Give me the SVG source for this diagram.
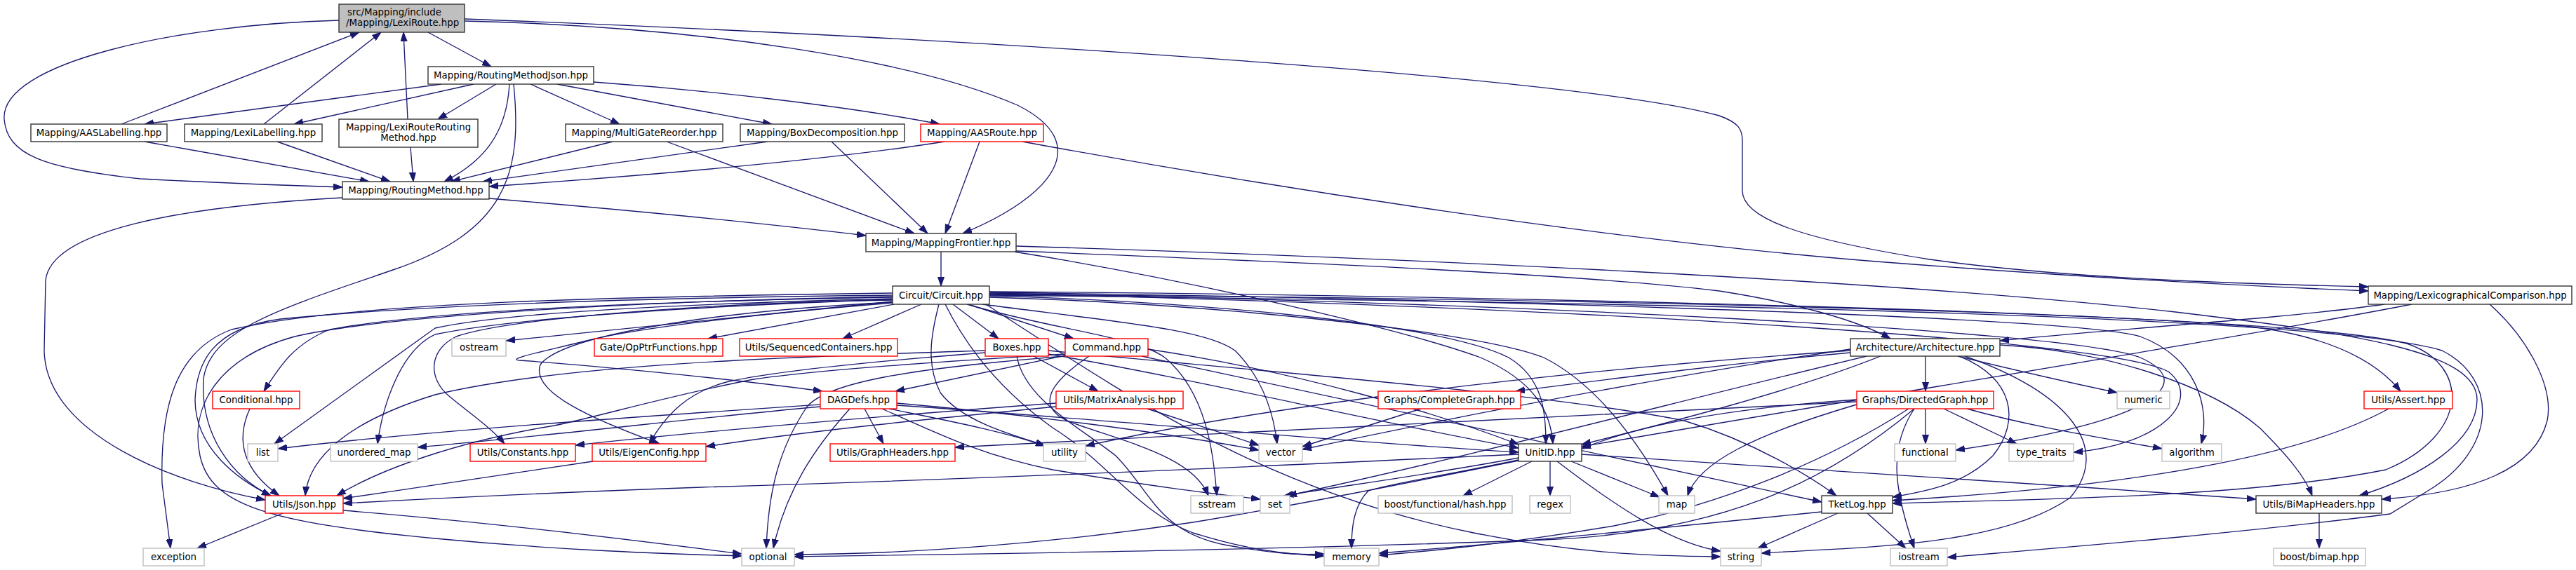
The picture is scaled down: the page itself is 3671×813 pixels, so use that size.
<svg xmlns="http://www.w3.org/2000/svg" width="3671" height="813" viewBox="0 0 3671 813">
<defs>
<marker id="a" markerWidth="14" markerHeight="10" refX="13" refY="5" orient="auto" markerUnits="userSpaceOnUse"><path d="M0,0.5 L13,5 L0,9.5 z" fill="#191970" stroke="#191970" stroke-width="1"/></marker>
<style>
.n rect{fill:#fff;stroke:#333;stroke-width:1.4}
.h rect{fill:#bfbfbf;stroke:#333;stroke-width:1.4}
.r rect{fill:#fff;stroke:#f00;stroke-width:1.4}
.g rect{fill:#fff;stroke:#bfbfbf;stroke-width:1.4}
text{font-family:"DejaVu Sans","Liberation Sans",sans-serif;font-size:13.33px;fill:#000;text-anchor:middle}
.e path{fill:none;stroke:#191970;stroke-width:1.33;marker-end:url(#a)}
</style>
</defs>
<rect width="3671" height="813" fill="#fff"/>
<g class="e" id="edges">
<path d="M173,177 L512,46"/>
<path d="M376,177 L543,46"/>
<path d="M581,170 L575,46"/>
<path d="M610,46 L700,95"/>
<path d="M483,29 C250,35 0,90 6,170 C10,220 60,240 200,255 C330,262 420,265 488,267"/>
<path d="M662,30 C1000,38 1300,85 1450,150 C1560,205 1500,280 1372,333"/>
<path d="M662,27 C1400,55 2250,110 2450,165 C2478,175 2483,185 2483,200 L2483,272 C2483,310 2560,340 2750,370 C2950,398 3200,405 3375,409"/>
<path d="M629,120 L206,177"/>
<path d="M675,120 L419,177"/>
<path d="M707,120 L624,170"/>
<path d="M726,120 C722,190 690,230 633,259"/>
<path d="M732,120 C745,250 720,330 560,385 C400,440 300,470 290,540 C285,620 330,680 386,707"/>
<path d="M756,120 L883,177"/>
<path d="M794,120 L1100,177"/>
<path d="M846,117 C1000,128 1200,150 1339,177"/>
<path d="M206,202 L526,259"/>
<path d="M395,202 L556,259"/>
<path d="M585,210 L589,259"/>
<path d="M873,202 L643,259"/>
<path d="M1094,202 L688,259"/>
<path d="M1346,202 C1200,225 1000,245 697,266"/>
<path d="M950,202 L1303,333"/>
<path d="M1185,202 L1322,333"/>
<path d="M1396,202 L1347,333"/>
<path d="M1457,202 C1800,265 2300,345 2700,375 C3000,398 3250,410 3375,415"/>
<path d="M697,283 C900,300 1100,320 1234,336"/>
<path d="M488,282 C250,295 72,330 65,400 L63,500 C65,620 250,690 378,713"/>
<path d="M1341,359 L1341,408"/>
<path d="M1448,358 C1800,372 2250,390 2450,415 C2560,432 2650,458 2694,483"/>
<path d="M1445,359 C1700,400 2000,470 2110,510 C2190,545 2210,590 2213,633"/>
<path d="M1448,351 C2000,368 2700,400 3100,445 C3350,475 3530,500 3530,570 C3530,630 3450,680 3362,707"/>
<path d="M1272,430 L721,486"/>
<path d="M1274,434 L1009,483"/>
<path d="M1313,434 L1201,483"/>
<path d="M1272,418 C900,423 500,430 330,470 C250,500 228,580 231,690 L243,782"/>
<path d="M1272,421 C900,425 600,435 400,455 C300,468 280,520 278,570 C278,640 340,685 386,707"/>
<path d="M1272,424 C900,430 600,445 470,470 C420,490 400,520 376,558"/>
<path d="M1272,426 C900,435 700,450 620,468 L391,633"/>
<path d="M1272,427 C900,440 700,460 620,477 C570,500 545,580 538,633"/>
<path d="M1272,423 C900,430 550,450 420,480 C310,510 270,580 285,650 C300,720 380,745 620,768 C800,785 950,790 1057,793"/>
<path d="M1272,428 C1000,432 720,455 650,480 C610,500 610,540 640,565 C670,590 700,610 719,633"/>
<path d="M1272,431 C1000,445 800,480 770,520 C755,560 850,600 940,633"/>
<path d="M1272,432 C1050,450 900,470 840,485 C780,500 720,512 740,514 C800,518 1000,535 1172,558"/>
<path d="M1358,434 L1423,483"/>
<path d="M1380,434 L1530,483"/>
<path d="M1338,434 C1326,480 1320,520 1340,560 C1370,600 1440,620 1489,635"/>
<path d="M1347,434 C1380,500 1430,560 1500,610 C1580,660 1620,730 1700,760 C1780,785 1830,790 1887,793"/>
<path d="M1378,434 C1500,470 1620,480 1660,510 C1720,560 1730,650 1734,707"/>
<path d="M1400,434 C1600,460 1720,470 1760,500 C1800,540 1815,590 1820,633"/>
<path d="M1410,422 C1700,430 2050,460 2150,510 C2200,540 2203,590 2203,633"/>
<path d="M1410,424 C1700,432 2100,470 2200,510 C2280,550 2340,640 2377,707"/>
<path d="M1494,500 C1800,530 2200,560 2400,600 C2500,630 2580,680 2617,707"/>
<path d="M1410,416 C2000,420 2900,440 3200,465 C3330,480 3390,520 3421,558"/>
<path d="M1410,417 C2000,425 2950,450 3050,480 C3130,510 3150,580 3137,633"/>
<path d="M1410,418 C2100,430 2950,470 3050,510 C3130,545 3080,600 2787,642"/>
<path d="M1410,419 C2100,432 3000,480 3090,530 C3140,570 3080,635 2955,645"/>
<path d="M1473,508 L1565,558"/>
<path d="M1404,500 C1100,510 800,520 620,563 C500,600 440,650 435,707"/>
<path d="M1404,503 C1250,515 1100,530 1035,545 C980,560 950,590 925,633"/>
<path d="M1494,505 C1700,540 1950,600 2164,639"/>
<path d="M1449,508 C1460,570 1540,610 1590,650 C1640,700 1650,760 1750,778 C1820,790 1850,792 1887,790"/>
<path d="M1518,507 L1276,558"/>
<path d="M1518,505 C1300,518 1150,530 1074,541 C950,565 850,595 790,607 C650,630 540,670 480,707"/>
<path d="M1636,498 C1850,530 2050,590 2164,634"/>
<path d="M1552,508 C1490,550 1480,580 1520,600 C1600,630 1700,650 1722,707"/>
<path d="M1518,508 C1300,525 1180,545 1150,580 C1110,640 1095,700 1092,782"/>
<path d="M1627,508 L2596,716"/>
<path d="M1169,577 C900,595 600,615 396,640"/>
<path d="M1169,580 C1000,595 800,620 595,638"/>
<path d="M1232,583 L1259,633"/>
<path d="M1267,583 C1350,600 1430,615 1489,636"/>
<path d="M1257,583 C1340,620 1400,650 1500,670 C1650,695 1720,703 1796,712"/>
<path d="M1211,583 C1160,640 1120,700 1102,782"/>
<path d="M1278,575 C1450,590 1650,615 1794,642"/>
<path d="M1278,578 C1600,600 1900,630 2164,645"/>
<path d="M1505,575 C1300,590 1000,615 820,635"/>
<path d="M1505,580 C1300,600 1150,615 1006,637"/>
<path d="M1635,583 L1794,635"/>
<path d="M2025,583 L1856,637"/>
<path d="M2744,508 L2744,558"/>
<path d="M2637,503 C2450,520 2300,540 2160,558"/>
<path d="M2790,508 C2880,530 2960,548 3017,560"/>
<path d="M2792,508 C2870,540 2880,600 2840,650 C2800,690 2750,700 2697,709"/>
<path d="M2800,508 C2950,560 3010,640 2950,710 C2850,780 2650,780 2510,789"/>
<path d="M2680,508 C2550,560 2350,610 2254,634"/>
<path d="M2637,498 C2350,540 2050,600 1856,641"/>
<path d="M2637,500 C2200,530 1800,580 1547,636"/>
<path d="M2660,508 C2400,570 2100,650 1835,707"/>
<path d="M2850,492 C3000,500 3150,550 3220,610 C3260,650 3285,680 3295,707"/>
<path d="M3398,434 C3250,455 3000,470 2850,486"/>
<path d="M3437,434 C3200,480 2700,560 2254,637"/>
<path d="M3548,434 C3600,480 3640,550 3630,600 C3610,680 3500,705 3394,712"/>
<path d="M2744,583 L2744,633"/>
<path d="M2770,583 L2874,633"/>
<path d="M2728,583 C2690,640 2700,700 2728,782"/>
<path d="M2720,583 C2600,660 2450,720 2300,750 C2150,775 2050,785 1965,792"/>
<path d="M2728,583 C2600,690 2450,760 2200,770 C1800,785 1400,790 1132,794"/>
<path d="M2646,577 C2500,620 2420,660 2405,707"/>
<path d="M2646,570 C2500,580 2350,600 2254,640"/>
<path d="M2646,573 C2300,590 1800,615 1361,638"/>
<path d="M2803,583 C2900,610 3000,625 3081,640"/>
<path d="M2183,658 L2085,707"/>
<path d="M2209,658 L2209,707"/>
<path d="M2239,658 L2365,709"/>
<path d="M2164,653 C2050,675 1900,695 1830,707"/>
<path d="M2164,656 C2050,680 1980,690 1950,700 C1930,720 1926,750 1926,782"/>
<path d="M2164,648 C1900,660 1500,680 1000,695 C800,702 600,712 489,718"/>
<path d="M2164,657 C2000,690 1850,720 1700,745 C1500,775 1300,790 1132,791"/>
<path d="M2219,658 C2300,720 2380,775 2452,786"/>
<path d="M2254,648 C2600,670 2900,690 3215,712"/>
<path d="M2619,732 L2505,782"/>
<path d="M2661,732 L2716,782"/>
<path d="M2596,730 C2400,750 2150,775 1965,789"/>
<path d="M3404,583 C3300,640 3100,690 2697,714"/>
<path d="M403,732 L281,782"/>
<path d="M489,728 C700,745 900,770 1057,790"/>
<path d="M845,658 C700,680 600,695 489,711"/>
<path d="M356,583 C330,640 360,680 398,707"/>
<path d="M3305,732 L3305,782"/>
<path d="M1405,434 C1600,560 1800,700 2100,760 C2250,790 2350,793 2452,794"/>
<path d="M1410,421 C2200,430 3300,445 3480,500 C3560,540 3560,640 3460,700 L3406,733 C3200,760 2950,780 2775,795"/>
<path d="M1410,420 C2200,425 3250,445 3430,490 C3520,520 3520,620 3400,670 C3200,710 2900,712 2697,718"/>
</g>
<g id="n_head" class="h"><rect x="483" y="6" width="179" height="40"/><text x="495" y="21.5" style="text-anchor:start">src/Mapping/include</text><text x="493" y="36.5" style="text-anchor:start">/Mapping/LexiRoute.hpp</text></g>
<g id="n_rmj" class="n"><rect x="610" y="95" width="236" height="25"/><text x="728" y="112">Mapping/RoutingMethodJson.hpp</text></g>
<g id="n_aaslab" class="n"><rect x="44" y="177" width="194" height="25"/><text x="141" y="194">Mapping/AASLabelling.hpp</text></g>
<g id="n_lexilab" class="n"><rect x="263" y="177" width="196" height="25"/><text x="361" y="194">Mapping/LexiLabelling.hpp</text></g>
<g id="n_lrrm" class="n"><rect x="483" y="170" width="198" height="40"/><text x="582" y="185.5">Mapping/LexiRouteRouting</text><text x="582" y="200.5">Method.hpp</text></g>
<g id="n_mgr" class="n"><rect x="806" y="177" width="224" height="25"/><text x="918" y="194">Mapping/MultiGateReorder.hpp</text></g>
<g id="n_boxdec" class="n"><rect x="1055" y="177" width="234" height="25"/><text x="1172" y="194">Mapping/BoxDecomposition.hpp</text></g>
<g id="n_aasroute" class="r"><rect x="1312" y="177" width="175" height="25"/><text x="1399.5" y="194">Mapping/AASRoute.hpp</text></g>
<g id="n_rm" class="n"><rect x="488" y="259" width="209" height="25"/><text x="592.5" y="276">Mapping/RoutingMethod.hpp</text></g>
<g id="n_mf" class="n"><rect x="1234" y="333" width="214" height="26"/><text x="1341" y="350.5">Mapping/MappingFrontier.hpp</text></g>
<g id="n_circuit" class="n"><rect x="1272" y="408" width="138" height="26"/><text x="1341" y="425.5">Circuit/Circuit.hpp</text></g>
<g id="n_lexcomp" class="n"><rect x="3375" y="408" width="290" height="26"/><text x="3520" y="425.5">Mapping/LexicographicalComparison.hpp</text></g>
<g id="n_ostream" class="g"><rect x="644" y="483" width="77" height="25"/><text x="682.5" y="500">ostream</text></g>
<g id="n_opptr" class="r"><rect x="847" y="483" width="183" height="25"/><text x="938.5" y="500">Gate/OpPtrFunctions.hpp</text></g>
<g id="n_seqcont" class="r"><rect x="1054" y="483" width="225" height="25"/><text x="1166.5" y="500">Utils/SequencedContainers.hpp</text></g>
<g id="n_boxes" class="r"><rect x="1404" y="483" width="90" height="25"/><text x="1449" y="500">Boxes.hpp</text></g>
<g id="n_command" class="r"><rect x="1518" y="483" width="118" height="25"/><text x="1577" y="500">Command.hpp</text></g>
<g id="n_arch" class="n"><rect x="2637" y="483" width="213" height="25"/><text x="2743.5" y="500">Architecture/Architecture.hpp</text></g>
<g id="n_conditional" class="r"><rect x="303" y="558" width="124" height="25"/><text x="365" y="575">Conditional.hpp</text></g>
<g id="n_dagdefs" class="r"><rect x="1169" y="558" width="109" height="25"/><text x="1223.5" y="575">DAGDefs.hpp</text></g>
<g id="n_matrix" class="r"><rect x="1505" y="558" width="181" height="25"/><text x="1595.5" y="575">Utils/MatrixAnalysis.hpp</text></g>
<g id="n_complete" class="r"><rect x="1964" y="558" width="203" height="25"/><text x="2065.5" y="575">Graphs/CompleteGraph.hpp</text></g>
<g id="n_directed" class="r"><rect x="2646" y="558" width="195" height="25"/><text x="2743.5" y="575">Graphs/DirectedGraph.hpp</text></g>
<g id="n_numeric" class="g"><rect x="3017" y="558" width="75" height="25"/><text x="3054.5" y="575">numeric</text></g>
<g id="n_assert" class="r"><rect x="3369" y="558" width="126" height="25"/><text x="3432" y="575">Utils/Assert.hpp</text></g>
<g id="n_list" class="g"><rect x="353" y="633" width="43" height="25"/><text x="374.5" y="650">list</text></g>
<g id="n_umap" class="g"><rect x="471" y="633" width="124" height="25"/><text x="533" y="650">unordered_map</text></g>
<g id="n_constants" class="r"><rect x="670" y="633" width="150" height="25"/><text x="745" y="650">Utils/Constants.hpp</text></g>
<g id="n_eigen" class="r"><rect x="844" y="633" width="162" height="25"/><text x="925" y="650">Utils/EigenConfig.hpp</text></g>
<g id="n_graphheaders" class="r"><rect x="1183" y="633" width="178" height="25"/><text x="1272" y="650">Utils/GraphHeaders.hpp</text></g>
<g id="n_utility" class="g"><rect x="1487" y="633" width="60" height="25"/><text x="1517" y="650">utility</text></g>
<g id="n_vector" class="g"><rect x="1794" y="633" width="62" height="25"/><text x="1825" y="650">vector</text></g>
<g id="n_unitid" class="n"><rect x="2164" y="633" width="90" height="25"/><text x="2209" y="650">UnitID.hpp</text></g>
<g id="n_functional" class="g"><rect x="2700" y="633" width="87" height="25"/><text x="2743.5" y="650">functional</text></g>
<g id="n_typetraits" class="g"><rect x="2863" y="633" width="92" height="25"/><text x="2909" y="650">type_traits</text></g>
<g id="n_algorithm" class="g"><rect x="3081" y="633" width="85" height="25"/><text x="3123.5" y="650">algorithm</text></g>
<g id="n_json" class="r"><rect x="378" y="707" width="111" height="25"/><text x="433.5" y="724">Utils/Json.hpp</text></g>
<g id="n_sstream" class="g"><rect x="1697" y="707" width="75" height="25"/><text x="1734.5" y="724">sstream</text></g>
<g id="n_set" class="g"><rect x="1796" y="707" width="42" height="25"/><text x="1817" y="724">set</text></g>
<g id="n_hash" class="g"><rect x="1964" y="707" width="191" height="25"/><text x="2059.5" y="724">boost/functional/hash.hpp</text></g>
<g id="n_regex" class="g"><rect x="2180" y="707" width="58" height="25"/><text x="2209" y="724">regex</text></g>
<g id="n_map" class="g"><rect x="2364" y="707" width="51" height="25"/><text x="2389.5" y="724">map</text></g>
<g id="n_tketlog" class="n"><rect x="2596" y="707" width="101" height="25"/><text x="2646.5" y="724">TketLog.hpp</text></g>
<g id="n_bimapheaders" class="n"><rect x="3215" y="707" width="179" height="25"/><text x="3304.5" y="724">Utils/BiMapHeaders.hpp</text></g>
<g id="n_exception" class="g"><rect x="204" y="782" width="87" height="25"/><text x="247.5" y="799">exception</text></g>
<g id="n_optional" class="g"><rect x="1057" y="782" width="75" height="25"/><text x="1094.5" y="799">optional</text></g>
<g id="n_memory" class="g"><rect x="1887" y="782" width="78" height="25"/><text x="1926" y="799">memory</text></g>
<g id="n_string" class="g"><rect x="2452" y="782" width="58" height="25"/><text x="2481" y="799">string</text></g>
<g id="n_iostream" class="g"><rect x="2694" y="782" width="81" height="25"/><text x="2734.5" y="799">iostream</text></g>
<g id="n_bimap" class="g"><rect x="3240" y="782" width="131" height="25"/><text x="3305.5" y="799">boost/bimap.hpp</text></g>
</svg>
